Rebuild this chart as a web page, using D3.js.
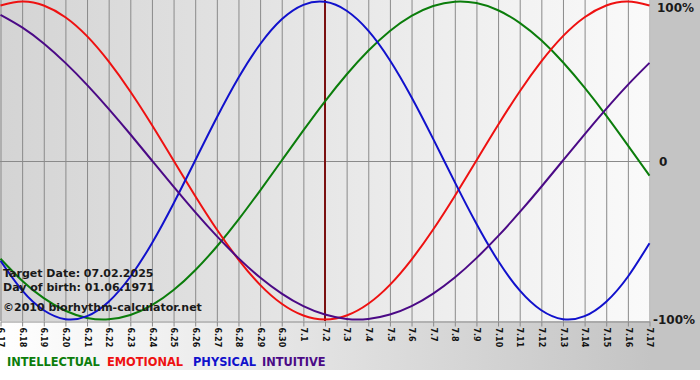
<!DOCTYPE html>
<html>
<head>
<meta charset="utf-8">
<script src="https://cdn.jsdelivr.net/npm/d3@7"></script>
<style>
body { margin: 0; background: #fff; }
svg { display: block; font-family: "DejaVu Sans", Verdana, sans-serif; }
</style>
</head>
<body>
<svg width="700" height="380"></svg>
<script>
// days shown on the x axis (month.day)
var days = ["6.17", "6.18", "6.19", "6.20", "6.21", "6.22", "6.23", "6.24", "6.25", "6.26",
    "6.27", "6.28", "6.29", "6.30", "7.1", "7.2", "7.3", "7.4", "7.5", "7.6", "7.7", "7.8",
    "7.9", "7.10", "7.11", "7.12", "7.13", "7.14", "7.15", "7.16", "7.17"];

// values in percent, one per day
var intellectual = [-61.8, -75.6, -86.6, -94.5, -99.0, -99.9, -97.2, -91.0, -81.5, -69.0, -54.1,
    -37.2, -18.9, 0, 18.9, 37.2, 54.1, 69.0, 81.5, 91.0, 97.2, 99.9, 99.0, 94.5, 86.6, 75.6,
    61.8, 45.8, 28.2, 9.5, -9.5];
var emotional = [97.5, 100, 97.5, 90.1, 78.2, 62.3, 43.4, 22.3, 0, -22.3, -43.4, -62.3, -78.2,
    -90.1, -97.5, -100, -97.5, -90.1, -78.2, -62.3, -43.4, -22.3, 0, 22.3, 43.4, 62.3, 78.2,
    90.1, 97.5, 100, 97.5];
var physical = [-63.1, -81.7, -94.2, -99.8, -97.9, -88.8, -73.1, -52.0, -27.0, 0, 27.0, 52.0,
    73.1, 88.8, 97.9, 99.8, 94.2, 81.7, 63.1, 39.8, 13.6, -13.6, -39.8, -63.1, -81.7, -94.2,
    -99.8, -97.9, -88.8, -73.1, -52.0];
var intuitive = [91.6, 83.7, 73.6, 61.4, 47.6, 32.5, 16.5, 0, -16.5, -32.5, -47.6, -61.4, -73.6,
    -83.7, -91.6, -96.9, -99.7, -99.7, -96.9, -91.6, -83.7, -73.6, -61.4, -47.6, -32.5, -16.5,
    0, 16.5, 32.5, 47.6, 61.4];

var yTicks = [100, 0, -100];
var yTickLabels = ["100%", "0", "-100%"];
var targetDay = "7.2";
var infoLines = ["Target Date: 07.02.2025", "Day of birth: 01.06.1971", "\u00a92010 biorhythm-calculator.net"];

var series = [
    { name: "INTELLECTUAL", values: intellectual, color: "#0b7d0b" },
    { name: "EMOTIONAL", values: emotional, color: "#ee1111" },
    { name: "PHYSICAL", values: physical, color: "#1111cc" },
    { name: "INTUITIVE", values: intuitive, color: "#4b0a86" }
];

var plotW = 650, plotH = 321;

var svg = d3.select("svg");
var defs = svg.append("defs");

var bgGrad = defs.append("linearGradient").attr("id", "bgGrad")
    .attr("gradientUnits", "userSpaceOnUse").attr("x1", 0).attr("x2", 651).attr("y1", 0).attr("y2", 0);
bgGrad.append("stop").attr("offset", 0).attr("stop-color", "#ffffff");
bgGrad.append("stop").attr("offset", 1).attr("stop-color", "#c4c4c4");

var plotGrad = defs.append("linearGradient").attr("id", "plotGrad")
    .attr("x1", 0).attr("x2", 1).attr("y1", 0).attr("y2", 0);
plotGrad.append("stop").attr("offset", 0).attr("stop-color", "#d4d4d4");
plotGrad.append("stop").attr("offset", 1).attr("stop-color", "#fafafa");

defs.append("clipPath").attr("id", "plotClip")
    .append("rect").attr("width", plotW + 1).attr("height", plotH);

svg.append("rect").attr("width", 700).attr("height", 370).attr("fill", "url(#bgGrad)");
svg.append("rect").attr("width", plotW + 1).attr("height", plotH).attr("fill", "url(#plotGrad)");

var x = d3.scalePoint().domain(days).range([0.5, 649.5]);
var y = d3.scaleLinear().domain([-100, 100]).range([319.5, 1.5]);

// vertical grid lines
svg.append("g")
    .attr("transform", "translate(0," + plotH + ")")
    .call(d3.axisBottom(x).tickSize(-plotH).tickFormat(""))
    .call(g => g.select(".domain").remove())
    .selectAll("line").attr("stroke", "#8a8a8a");

// zero line
svg.append("line")
    .attr("x1", 0).attr("x2", plotW)
    .attr("y1", Math.round(y(0)) + 0.5).attr("y2", Math.round(y(0)) + 0.5)
    .attr("stroke", "#8a8a8a");

// bottom axis with rotated labels
var xAxis = svg.append("g")
    .attr("transform", "translate(0," + (plotH + 0.5) + ")")
    .call(d3.axisBottom(x).tickSize(5).tickSizeOuter(0));
xAxis.select(".domain").attr("stroke", "#8a8a8a");
xAxis.selectAll("line").attr("stroke", "#8a8a8a");
xAxis.selectAll("text")
    .attr("transform", "rotate(90)")
    .attr("x", 6).attr("y", 0).attr("dy", "0.35em")
    .attr("text-anchor", "start")
    .attr("font-size", 8).attr("font-weight", "bold")
    .attr("font-family", "'DejaVu Sans', Verdana, sans-serif")
    .attr("fill", "#111");

// target day line
svg.append("line")
    .attr("x1", x(targetDay)).attr("x2", x(targetDay))
    .attr("y1", 0).attr("y2", plotH)
    .attr("stroke", "#7a1010").attr("stroke-width", 2);

var line = d3.line()
    .x((d, i) => x(days[i]))
    .y(d => y(d))
    .curve(d3.curveNatural);

svg.append("g").attr("clip-path", "url(#plotClip)")
    .selectAll("path")
    .data(series)
    .enter().append("path")
    .attr("d", d => line(d.values))
    .attr("fill", "none")
    .attr("stroke", d => d.color)
    .attr("stroke-width", 2);

// right side percent labels
svg.selectAll(".ylab")
    .data(yTicks)
    .enter().append("text")
    .attr("class", "ylab")
    .attr("x", (d, i) => i === 1 ? 659 : (i === 0 ? 657 : 653))
    .attr("y", d => y(d) + (d === 100 ? 10 : (d === 0 ? 5 : 4)))
    .attr("font-size", 12).attr("font-weight", "bold").attr("fill", "#1a1a1a")
    .text((d, i) => yTickLabels[i]);

// info text
svg.selectAll(".info")
    .data(infoLines)
    .enter().append("text")
    .attr("class", "info")
    .attr("x", 3)
    .attr("y", (d, i) => [277, 291, 311][i])
    .attr("font-size", 11).attr("font-weight", "bold").attr("fill", "#1a1a1a")
    .text(d => d);

// legend
var legendX = [7, 107, 193, 262];
svg.selectAll(".legend")
    .data(series)
    .enter().append("text")
    .attr("class", "legend")
    .attr("x", (d, i) => legendX[i])
    .attr("y", 366)
    .attr("font-size", 11.4).attr("font-weight", "bold")
    .attr("fill", d => d.color)
    .text(d => d.name);
</script>
</body>
</html>
